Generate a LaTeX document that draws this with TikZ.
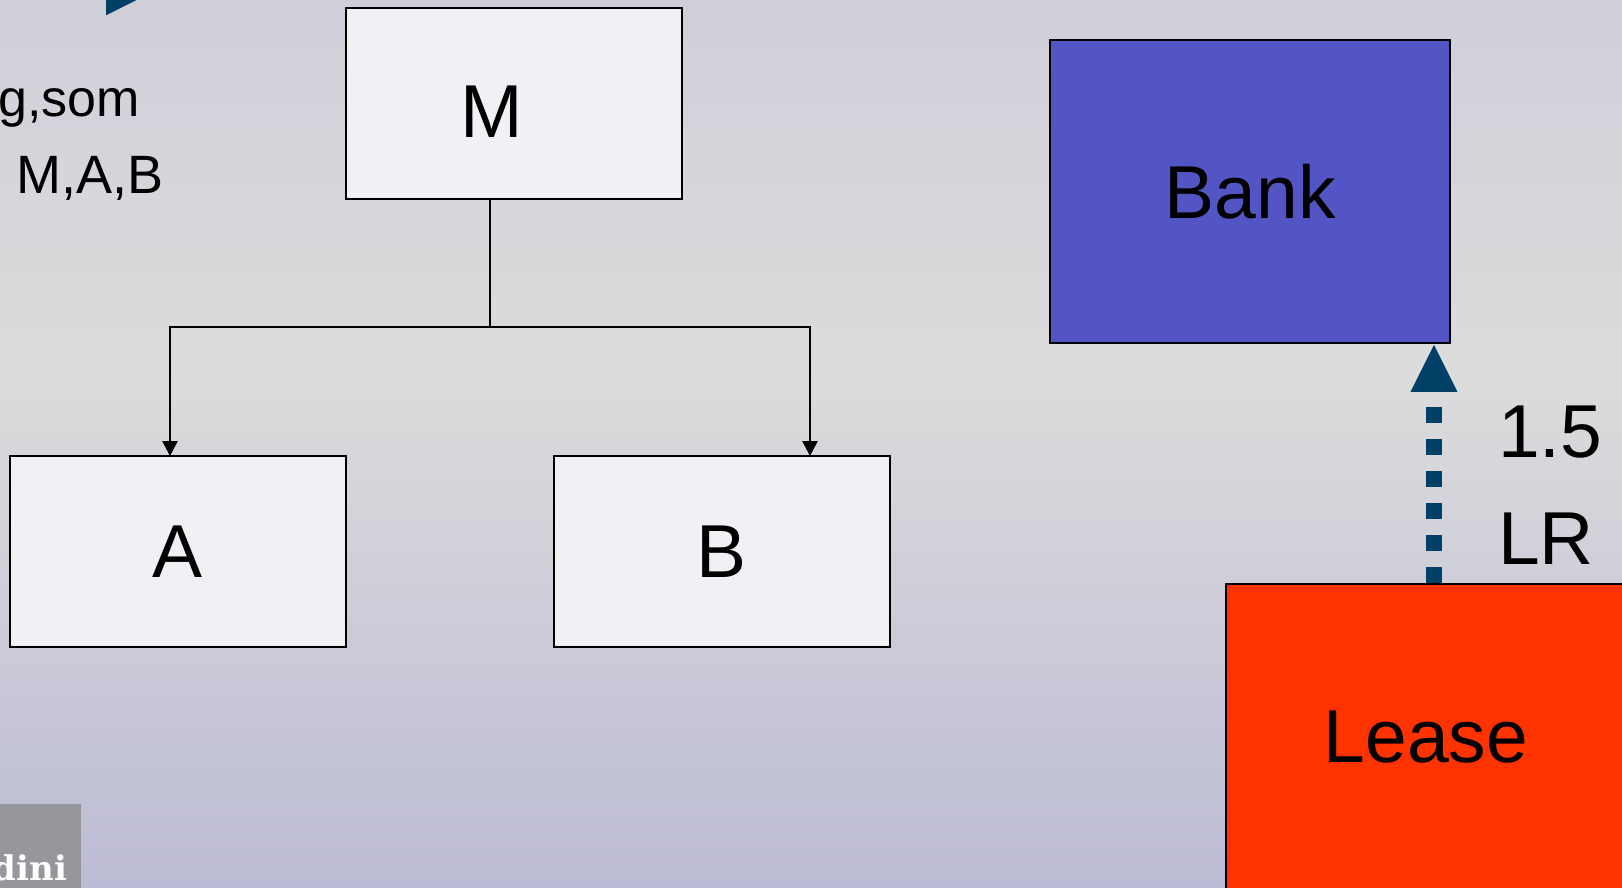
\documentclass[tikz,border=0pt]{standalone}
\usepackage{fontspec}
\setmainfont{Liberation Sans}
\newfontfamily\logofont{DejaVu Serif}
\usetikzlibrary{arrows.meta}

\definecolor{bgtop}{RGB}{207,207,218}
\definecolor{bgmid}{RGB}{220,220,220}
\definecolor{bgbot}{RGB}{188,187,213}
\definecolor{boxfill}{RGB}{240,240,245}
\definecolor{bankblue}{RGB}{83,85,197}
\definecolor{leasered}{RGB}{255,51,0}
\definecolor{navy}{RGB}{0,64,102}
\definecolor{logogray}{RGB}{150,151,156}

\begin{document}
\begin{tikzpicture}[x=1pt,y=-1pt,
  every node/.style={inner sep=0pt,outer sep=0pt},
  bigtext/.style={font=\fontsize{75}{90}\selectfont},
  bodytext/.style={font=\fontsize{52}{62}\selectfont},
  frame/.style={draw=black,line width=2pt},
  unit/.style={frame,fill=boxfill,minimum width=336pt,minimum height=191pt,bigtext},
  party/.style={frame,minimum width=400pt,bigtext},
  conn/.style={draw=black,line width=2pt},
  arr/.style={conn,-{Triangle[length=15pt,width=15pt]}},
  ratio/.style={navy,line width=16pt,dash pattern=on 16pt off 16pt,dash phase=31pt,
    shorten >=2pt,-{Triangle[length=47pt,width=47pt,line width=0pt]}}
]
\useasboundingbox (0,0) rectangle (1622,888);
\clip (0,0) rectangle (1622,888);

% background
\fill[top color=bgtop,bottom color=bgmid] (0,0) rectangle (1622,371);
\fill[top color=bgmid,bottom color=bgbot] (0,370) rectangle (1622,888);

% arrowhead entering from above the frame
\fill[navy] (106,-31.7) -- (153,-8.2) -- (106,15.3) -- cycle;

% bullet text
\node[bodytext,anchor=base east] (line1) at (140,117) {g,som};
\node[font=\fontsize{54}{64}\selectfont,anchor=base west] (line2) at (16.5,193) {M,A,B};

% group structure
\node[unit] (M) at (514,103.3) {};
\node[bigtext] (Mlabel) at (492,111.3) {M};
\node[unit] (A) at (177.8,551.6) {A};
\node[unit] (B) at (721.6,551.6) {B};

\coordinate (j) at (490,327);
\coordinate (ja) at (170,327);
\coordinate (jb) at (810,327);
\draw[conn] (j |- M.south) -- (j);
\draw[arr] (j) -- (ja) -- (ja |- A.north);
\draw[arr] (j) -- (jb) -- (jb |- B.north);

% bank and lease
\node[party,fill=bankblue,minimum height=303pt] (Bank) at (1250.3,191.3) {Bank};
\node[party,fill=leasered,minimum height=306pt] (Lease) at (1426,737) {Lease};

\coordinate (lr) at (1434,0);
\draw[ratio] (lr |- Lease.north) -- (lr |- Bank.south);
\node[bigtext,anchor=base west] (ratio) at (1498,457) {1.5};
\node[bigtext,anchor=base west] (lrlabel) at (1498,564) {LR};

% logo corner
\fill[logogray] (0,804) rectangle (81,890);
\node[text=white,anchor=base east,font=\logofont\bfseries\fontsize{34}{40}\selectfont] (logo) at (67,880) {dini};
\end{tikzpicture}
\end{document}
